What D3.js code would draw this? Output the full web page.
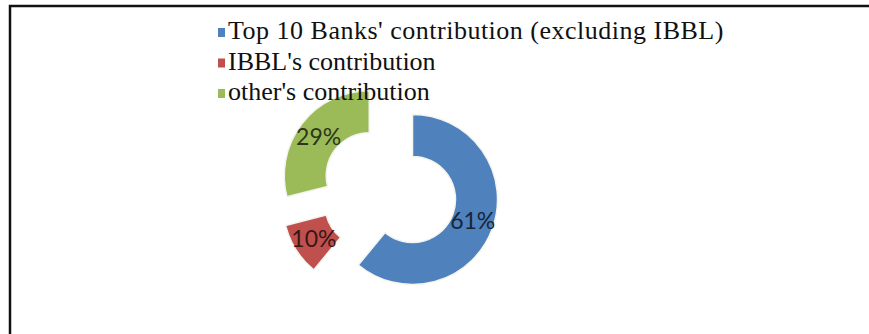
<!DOCTYPE html>
<html>
<head>
<meta charset="utf-8">
<script src="https://cdn.jsdelivr.net/npm/d3@7"></script>
<style>
  body { margin: 0; background: #fff; }
</style>
</head>
<body>
<svg id="chart"></svg>
<script>
// data
var categories = ["Top 10 Banks' contribution (excluding IBBL)", "IBBL's contribution", "other's contribution"];
var shares = [61, 10, 29];
var colors = ["#4F81BD", "#C0504D", "#9BBB59"];

var width = 869, height = 334;
var cx = 389, cy = 191;      // centre of the un-exploded donut
var outerR = 85, innerR = 43;
var explode = 25;            // how far each slice is pulled out

var svg = d3.select("#chart").attr("width", width).attr("height", height);

// frame: only top and left edges show in the reference
svg.append("path")
  .attr("d", "M10," + height + "V6H" + width)
  .attr("fill", "none")
  .attr("stroke", "#111")
  .attr("stroke-width", 2.5);

var color = d3.scaleOrdinal().domain(categories).range(colors);

var values = categories.map(function(c, i) { return {name: c, value: shares[i]}; });

var pie = d3.pie().sort(null).value(function(d) { return d.value; })(values);

var arc = d3.arc().innerRadius(innerR).outerRadius(outerR);

function offset(d) {
  var a = (d.startAngle + d.endAngle) / 2;
  return [Math.sin(a) * explode, -Math.cos(a) * explode];
}

var g = svg.append("g").attr("transform", "translate(" + cx + "," + cy + ")");

var slices = g.append("g").selectAll("g")
  .data(pie)
  .enter()
  .append("g")
  .attr("transform", function(d) { return "translate(" + offset(d) + ")"; });

slices.append("path")
  .attr("d", arc)
  .attr("fill", function(d) { return color(d.data.name); })
  .attr("stroke", "#f4f4ee")
  .attr("stroke-width", 1.5);

// percentage labels in the middle of the ring
slices.append("text")
  .attr("transform", function(d) { return "translate(" + arc.centroid(d) + ")"; })
  .attr("text-anchor", "middle")
  .attr("dy", "0.36em")
  .attr("font-family", "Lato")
  .attr("font-size", 23)
  .attr("fill", function(d) { return d3.color(color(d.data.name)).darker(3.5); })
  .text(function(d) { return d.data.value + "%"; });

// legend sits on top of the chart
var legend = svg.append("g");
var rowY = d3.scalePoint().domain(categories).range([39, 100]);
var spacing = [0.5, 0, 0];

var rows = legend.selectAll("g")
  .data(categories)
  .enter()
  .append("g")
  .attr("transform", function(d) { return "translate(218," + rowY(d) + ")"; });

rows.append("rect")
  .attr("x", 0).attr("y", -11)
  .attr("width", 7).attr("height", 9)
  .attr("fill", function(d) { return color(d); });

rows.append("text")
  .attr("x", 10)
  .attr("font-family", "Liberation Serif")
  .attr("font-size", 26)
  .attr("letter-spacing", function(d, i) { return spacing[i]; })
  .attr("fill", "#111")
  .text(function(d) { return d; });
</script>
</body>
</html>
